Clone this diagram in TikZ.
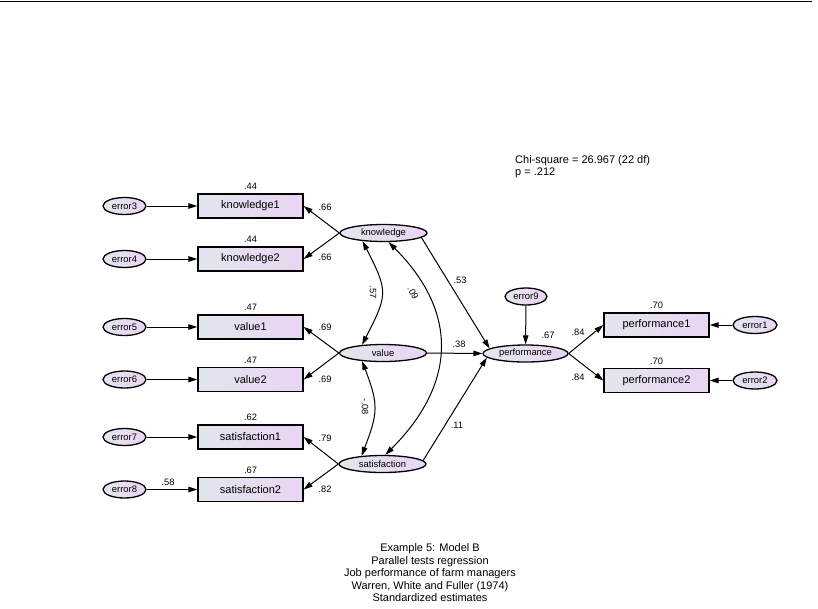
\documentclass[tikz,border=0pt]{standalone}
\usepackage{fontspec}
\setmainfont{Liberation Sans}
\usetikzlibrary{arrows.meta,shapes.geometric}
\definecolor{shadeL}{RGB}{226,230,238}
\definecolor{shadeR}{RGB}{234,212,242}

\begin{document}
\begin{tikzpicture}[x=1pt,y=1pt,>={Triangle[length=9pt,width=5.5pt]},
  obs/.style={draw,line width=1.3pt,rectangle,minimum width=105pt,minimum height=24pt,inner sep=0pt,
    left color=shadeL,right color=shadeR,font=\fontsize{11}{12}\selectfont},
  lat/.style={draw,line width=1.3pt,ellipse,minimum width=87pt,minimum height=17pt,inner sep=0pt,
    left color=shadeL,right color=shadeR,font=\fontsize{9.4}{10}\selectfont},
  err/.style={lat,minimum width=43pt},
  est/.style={inner sep=0pt,font=\fontsize{9.3}{10}\selectfont},
  arr/.style={->,line width=1pt},
  cov/.style={<->,line width=1pt}]
\useasboundingbox (0,0) rectangle (818,-608);
\def\bx{250.5}   % centre of the indicator boxes
\def\ex{124.5}   % centre of the error terms
% top rule
\draw[line width=1.3pt] (0,-1.8) -- (812,-1.8);
% indicators of the three predictors, with their errors
\foreach \nm/\yy/\vv/\er in {knowledge1/206/.44/error3,knowledge2/259/.44/error4,
    value1/327/.47/error5,value2/379.5/.47/error6,
    satisfaction1/437/.62/error7,satisfaction2/489.5/.67/error8}{
  \node[obs] (\nm) at (\bx,-\yy) {\nm};
  \node[est] (\nm-r2) at (\bx,-\yy+19.5) {\vv};
  \node[err] (\er) at (\ex,-\yy) {\er};
  \draw[arr] (\er) -- (\nm);
}
\node[est] (e8-cov) at (168,-482) {.58};
% the latent predictors
\node[lat] (knowledge) at (383.5,-233) {knowledge};
\node[lat] (value) at (383,-353) {value};
\node[lat] (satisfaction) at (382.5,-464) {satisfaction};
\draw[arr] (knowledge.west) -- (knowledge1.east);
\draw[arr] (knowledge.west) -- (knowledge2.east);
\draw[arr] (value.west) -- (value1.east);
\draw[arr] (value.west) -- (value2.east);
\draw[arr] (satisfaction.west) -- (satisfaction1.east);
\draw[arr] (satisfaction.west) -- (satisfaction2.east);
\node[est] (ld1) at (325,-207) {.66};
\node[est] (ld2) at (325,-257) {.66};
\node[est] (ld3) at (325,-327) {.69};
\node[est] (ld4) at (325,-379) {.69};
\node[est] (ld5) at (325,-438) {.79};
\node[est] (ld6) at (325,-489) {.82};
% correlations among the predictors
\draw[cov] (knowledge.-159) to[out=-63,in=63,looseness=1.4] (value.159);
\draw[cov] (knowledge.-61) to[out=-45,in=45,looseness=1.2] (satisfaction.73);
\draw[cov] (value.-159) to[out=-69,in=69,looseness=1.25] (satisfaction.159);
\node[est,rotate=-90] (c57) at (373,-292) {.57};
\node[est,rotate=-62] (c09) at (413,-293) {.09};
\node[est,rotate=-90] (c08) at (365,-407) {-.08};
% the criterion and its indicators
\node[lat,minimum width=85pt] (performance) at (525.5,-353.5) {performance};
\node[err,minimum width=42pt] (error9) at (526,-296.5) {error9};
\node[obs] (performance1) at (656.5,-325) {performance1};
\node[obs] (performance2) at (656.5,-380.5) {performance2};
\node[err,minimum width=44pt] (error1) at (755,-325) {error1};
\node[err,minimum width=44pt] (error2) at (755,-380.5) {error2};
\draw[arr] (knowledge.-7) -- (performance.172);
\draw[arr] (value.east) -- (performance.west);
\draw[arr] (satisfaction.5) -- (performance.186);
\draw[arr] (error9) -- (performance);
\draw[arr] (performance.east) -- (performance1.west);
\draw[arr] (performance.east) -- (performance2.west);
\draw[arr] (error1) -- (performance1);
\draw[arr] (error2) -- (performance2);
\node[est] (b53) at (460,-280) {.53};
\node[est] (b38) at (459,-344) {.38};
\node[est] (b11) at (457,-425) {.11};
\node[est] (r2perf) at (548,-335) {.67};
\node[est] (ld7) at (578,-332) {.84};
\node[est] (ld8) at (578,-377) {.84};
\node[est] (p1-r2) at (656.5,-305.5) {.70};
\node[est] (p2-r2) at (656.5,-361) {.70};
% fit and caption
\node[anchor=north west,align=left,inner sep=0pt,font=\fontsize{11}{12}\selectfont] (fit) at (515,-155)
  {Chi-square = 26.967 (22 df)\\p = .212};
\node[align=center,inner sep=0pt,font=\fontsize{11}{12.5}\selectfont] (caption) at (430,-573)
  {Example 5: Model B\\Parallel tests regression\\Job performance of farm managers\\Warren, White and Fuller (1974)\\Standardized estimates};
\end{tikzpicture}
\end{document}
